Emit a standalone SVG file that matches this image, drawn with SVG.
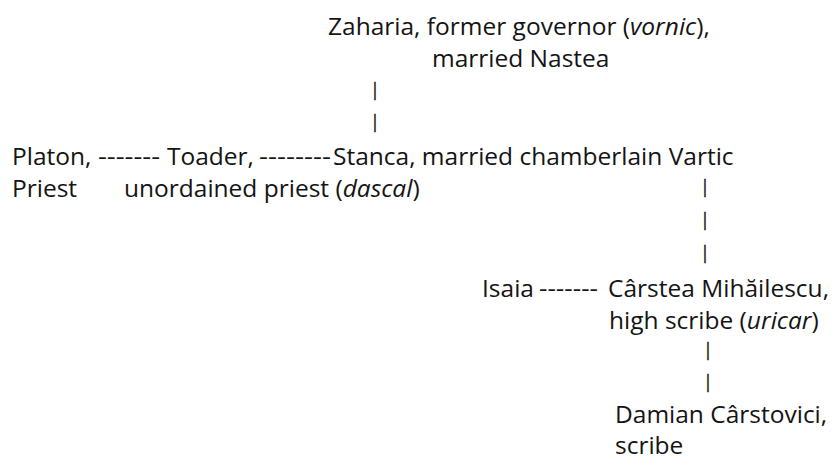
<svg xmlns="http://www.w3.org/2000/svg" width="837" height="468" viewBox="0 0 837 468">
<style>
text{font-family:"Open Sans","Noto Sans",sans-serif;font-size:24.5px;fill:#141414}
.i{font-style:italic}
.bar{font-size:18px;text-anchor:middle;stroke:#141414;stroke-width:0.3}
</style>
<rect width="837" height="468" fill="#fff"/>
<g id="connectors">
<text class="bar" x="375" y="96">|</text>
<text class="bar" x="375" y="128">|</text>
<text x="98" y="165" textLength="62" lengthAdjust="spacingAndGlyphs">-------</text>
<text x="259" y="165" textLength="72" lengthAdjust="spacingAndGlyphs">--------</text>
<text class="bar" x="705" y="193">|</text>
<text class="bar" x="705" y="226">|</text>
<text class="bar" x="705" y="259">|</text>
<text x="539" y="297" textLength="59" lengthAdjust="spacingAndGlyphs">-------</text>
<text class="bar" x="708" y="356">|</text>
<text class="bar" x="708" y="388">|</text>
</g>
<g id="zaharia">
<text x="328" y="35">Zaharia, former governor (<tspan class="i">vornic</tspan>),</text>
<text x="432" y="67">married Nastea</text>
</g>
<g id="platon">
<text x="12" y="165">Platon,</text>
<text x="12" y="197">Priest</text>
</g>
<g id="toader">
<text x="167" y="165">Toader,</text>
<text x="124" y="197">unordained priest (<tspan class="i">dascal</tspan>)</text>
</g>
<g id="stanca">
<text x="333" y="165">Stanca, married chamberlain Vartic</text>
</g>
<g id="isaia">
<text x="482" y="297">Isaia</text>
</g>
<g id="carstea">
<text x="608" y="297">Cârstea Mihăilescu,</text>
<text x="609" y="329">high scribe (<tspan class="i">uricar</tspan>)</text>
</g>
<g id="damian">
<text x="615" y="423">Damian Cârstovici,</text>
<text x="615" y="454">scribe</text>
</g>
</svg>
